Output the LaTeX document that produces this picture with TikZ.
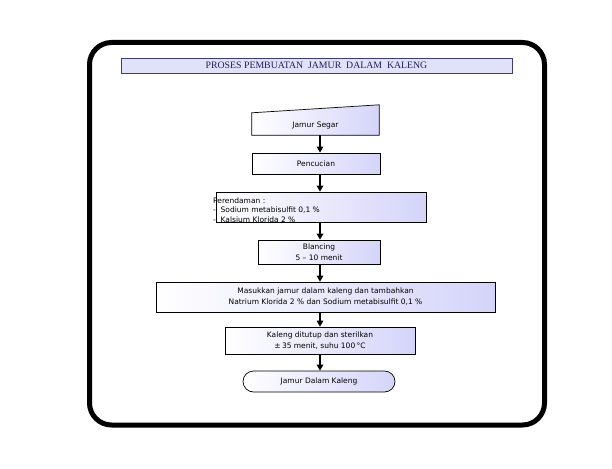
\documentclass[tikz,border=0pt]{standalone}
\usepackage{fontspec}
\setmainfont{Liberation Serif}
\newfontfamily\boxfont{DejaVu Sans}
\usetikzlibrary{arrows.meta,calc,shapes.misc}
\definecolor{lav}{RGB}{212,212,250}
\definecolor{titlefill}{RGB}{225,225,250}
\definecolor{titledraw}{RGB}{60,60,120}
\definecolor{titletext}{RGB}{30,30,90}
\tikzset{
  stepbox/.style={draw=black, line width=0.7pt, left color=white, right color=lav, inner sep=0pt,
    font=\boxfont\fontsize{7.5}{11}\selectfont, align=center},
  flowarrow/.style={line width=1.8pt, -{Triangle[length=6pt,width=6.5pt]}},
}
\begin{document}
\begin{tikzpicture}[x=1pt,y=-1pt]
\useasboundingbox (0,0) rectangle (612,468);
% outer frame
\draw[line width=5pt, rounded corners=22pt] (89.5,42.5) rectangle (544.5,425);
% title
\node[draw=titledraw, line width=0.7pt, fill=titlefill, minimum width=391pt, minimum height=15pt, inner sep=0pt,
  text=titletext, font=\fontsize{9.8}{10}\selectfont] (title) at (316.5,65.5) {PROSES PEMBUATAN\ \ JAMUR\ \ DALAM\ \ KALENG};
% Jamur Segar (manual input shape)
\node[minimum width=127pt, minimum height=30pt, inner sep=0pt] (js) at (315.5,120) {};
\path[stepbox] (js.south west) -- (js.south east) -- (js.north east) -- ($(js.north west)+(0,8)$) -- cycle;
\node[font=\boxfont\fontsize{7.5}{11}\selectfont] (jst) at (315.5,125) {Jamur Segar};
% Pencucian
\node[stepbox, minimum width=128pt, minimum height=21pt] (pc) at (316,163.5) {Pencucian};
% Perendaman
\node[stepbox, minimum width=210pt, minimum height=30pt] (pr) at (321,207) {};
\node[anchor=north west, inner sep=0pt, align=left, font=\boxfont\fontsize{7.5}{9.5}\selectfont] (prt) at (213,197.5) {Perendaman :\\-\ \ Sodium metabisulfit 0,1 \%\\-\ \ Kalsium Klorida 2 \%};
% Blancing
\node[stepbox, minimum width=122pt, minimum height=24pt] (bl) at (319,252) {Blancing\\5 – 10 menit};
% Masukkan
\node[stepbox, minimum width=339pt, minimum height=30pt] (mk) at (325.5,297) {Masukkan jamur dalam kaleng dan tambahkan\\Natrium Klorida 2 \% dan Sodium metabisulfit 0,1 \%};
% Kaleng
\node[stepbox, minimum width=190pt, minimum height=27pt] (kl) at (320,340.5) {Kaleng ditutup dan sterilkan\\±\,35 menit, suhu 100\,°C};
% terminal
\node[stepbox, rounded rectangle, minimum width=152pt, minimum height=21pt] (el) at (319,381.5) {Jamur Dalam Kaleng};
% arrows
\coordinate (ax) at (320,0);
\draw[flowarrow] (js.south -| ax) -- (pc.north -| ax);
\draw[flowarrow] (pc.south -| ax) -- (pr.north -| ax);
\draw[flowarrow] (pr.south -| ax) -- (bl.north -| ax);
\draw[flowarrow] (bl.south -| ax) -- (mk.north -| ax);
\draw[flowarrow] (mk.south -| ax) -- (kl.north -| ax);
\draw[flowarrow] (kl.south -| ax) -- (el.north -| ax);
\end{tikzpicture}
\end{document}
